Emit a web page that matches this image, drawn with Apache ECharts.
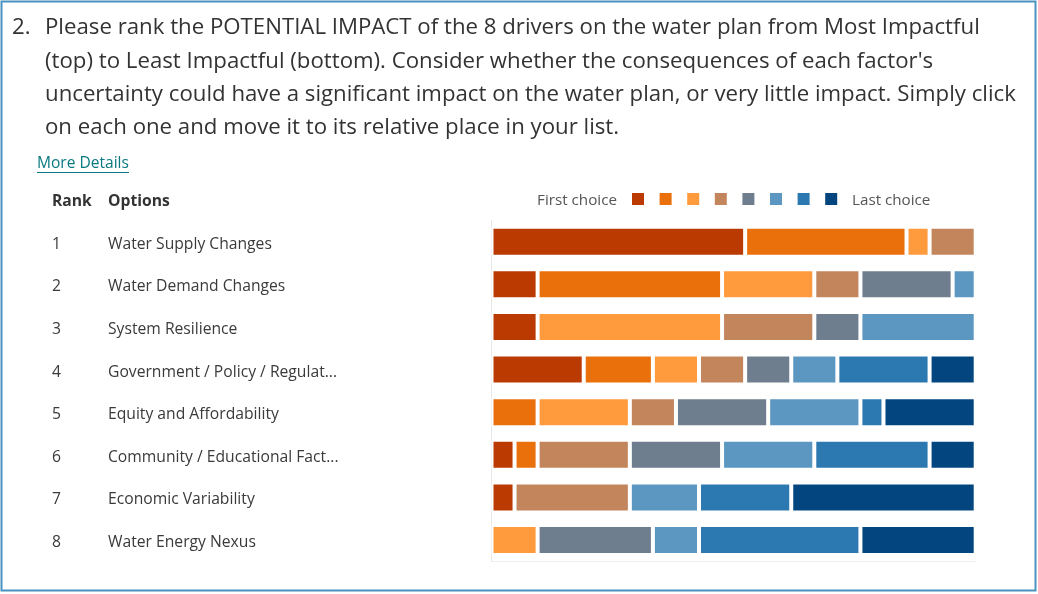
<!DOCTYPE html>
<html>
<head>
<meta charset="utf-8">
<script src="https://cdn.jsdelivr.net/npm/echarts@6/dist/echarts.min.js"></script>
<style>
  html, body { margin: 0; padding: 0; background: #fff; }
  #chart { width: 1038px; height: 594px; }
</style>
</head>
<body>
<div id="chart"></div>
<script>
// Ranking question: how many respondents placed each driver at each rank position
const options = [
  'Water Supply Changes',
  'Water Demand Changes',
  'System Resilience',
  'Government / Policy / Regulat...',
  'Equity and Affordability',
  'Community / Educational Fact...',
  'Economic Variability',
  'Water Energy Nexus'
];
const ranks = [1, 2, 3, 4, 5, 6, 7, 8];

// Respondent counts per choice position (one value per option, top to bottom)
const choice1 = [11, 2, 2, 4, 0, 1, 1, 0];
const choice2 = [7, 8, 0, 3, 2, 1, 0, 0];
const choice3 = [1, 4, 8, 2, 4, 0, 0, 2];
const choice4 = [2, 2, 4, 2, 2, 4, 5, 0];
const choice5 = [0, 4, 2, 2, 4, 4, 0, 5];
const choice6 = [0, 1, 5, 2, 4, 4, 3, 2];
const choice7 = [0, 0, 0, 4, 1, 5, 4, 7];
const choice8 = [0, 0, 0, 2, 4, 2, 8, 5];
const choiceNames = ['Choice 1', 'Choice 2', 'Choice 3', 'Choice 4', 'Choice 5', 'Choice 6', 'Choice 7', 'Choice 8'];
const respondents = 21;

const questionLines = [
  'Please rank the POTENTIAL IMPACT of the 8 drivers on the water plan from Most Impactful',
  '(top) to Least Impactful (bottom). Consider whether the consequences of each factor\'s',
  'uncertainty could have a significant impact on the water plan, or very little impact. Simply click',
  'on each one and move it to its relative place in your list.'
];

const palette = ['#ba3a02', '#ea700b', '#ff9a3d', '#c3865c', '#6f7e8f', '#5b97c0', '#2c78b0', '#03467f'];
const FONT = '"Open Sans", "Noto Sans", sans-serif';

// size text so that a reference string spans a given pixel width
const ctx = document.createElement('canvas').getContext('2d');
function fitSize(text, target, weight) {
  ctx.font = (weight || 'normal') + ' 20px ' + FONT;
  return 20 * target / ctx.measureText(text).width;
}
const titleSize = fitSize(questionLines[2], 971);
const labelSize = fitSize(options[0], 164);
const linkSize = fitSize('More Details', 92);
const legendTextSize = fitSize('First choice', 80);

const series = [choice1, choice2, choice3, choice4, choice5, choice6, choice7, choice8].map((vals, i) => ({
  name: choiceNames[i],
  type: 'bar',
  stack: 'rank',
  barWidth: 30,
  data: vals.map(v => (v === 0 ? '-' : v)),
  itemStyle: { color: palette[i], borderColor: '#fff', borderWidth: 2 },
  emphasis: { disabled: true }
}));

// colour key: first choice ... last choice
const keySwatches = choiceNames.map((name, i) => ({
  type: 'rect', x: 632 + i * 27.6, y: 193,
  shape: { x: 0, y: 0, width: 12, height: 12 },
  style: { fill: palette[i] }, silent: true
}));

const graphics = [
  { type: 'rect', shape: { x: 1.5, y: 1.5, width: 1034, height: 589 },
    style: { fill: null, stroke: '#4a94bf', lineWidth: 2 }, silent: true },
  { type: 'text', x: 12, y: 28, style: { text: '2.', font: titleSize + 'px ' + FONT, fill: '#333', verticalAlign: 'middle' } },
  ...questionLines.map((t, i) => ({
    type: 'text', x: 45, y: 28 + i * 33.2,
    style: { text: t, font: titleSize + 'px ' + FONT, fill: '#333', verticalAlign: 'middle' }
  })),
  { type: 'text', x: 37, y: 163.5, style: { text: 'More Details', font: linkSize + 'px ' + FONT, fill: '#0b7a80', verticalAlign: 'middle' } },
  { type: 'line', shape: { x1: 37, y1: 172.5, x2: 129, y2: 172.5 }, style: { stroke: '#0b7a80', lineWidth: 1 } },
  { type: 'text', x: 52, y: 202, style: { text: 'Rank', font: 'bold ' + labelSize + 'px ' + FONT, fill: '#333', verticalAlign: 'middle' } },
  { type: 'text', x: 108, y: 202, style: { text: 'Options', font: 'bold ' + labelSize + 'px ' + FONT, fill: '#333', verticalAlign: 'middle' } },
  { type: 'text', x: 617, y: 201, style: { text: 'First choice', font: legendTextSize + 'px ' + FONT, fill: '#555', align: 'right', verticalAlign: 'middle' } },
  { type: 'text', x: 852, y: 201, style: { text: 'Last choice', font: legendTextSize + 'px ' + FONT, fill: '#555', verticalAlign: 'middle' } },
  ...keySwatches
];

const chart = echarts.init(document.getElementById('chart'), null, { renderer: 'canvas' });
chart.setOption({
  backgroundColor: '#fff',
  animation: false,
  textStyle: { fontFamily: FONT },
  grid: { left: 491.5, right: 62.3, top: 220.4, bottom: 32.6, containLabel: false },
  xAxis: {
    type: 'value', min: 0, max: respondents,
    axisLabel: { show: false }, axisTick: { show: false },
    splitLine: { show: false },
    axisLine: { show: true, lineStyle: { color: '#eeeeee', width: 1 } }
  },
  yAxis: {
    type: 'category', inverse: true, data: options,
    axisTick: { show: false },
    axisLine: { show: true, lineStyle: { color: '#e6e6e6', width: 1 } },
    axisLabel: {
      align: 'left', margin: 439.5,
      padding: [5, 0, 0, 0],
      formatter: (v, i) => '{r|' + ranks[i] + '}{o|' + v + '}',
      rich: {
        r: { width: 56, fontSize: labelSize, color: '#3a3a3a', fontFamily: FONT },
        o: { fontSize: labelSize, color: '#3a3a3a', fontFamily: FONT }
      }
    }
  },
  series: series,
  graphic: graphics
});
</script>
</body>
</html>
